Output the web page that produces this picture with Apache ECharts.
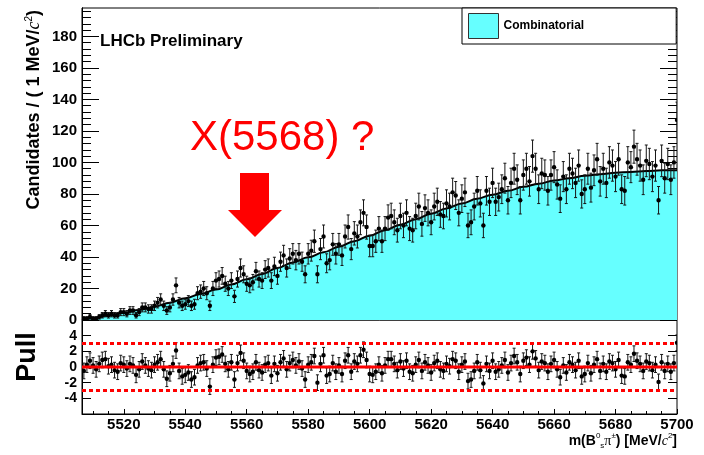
<!DOCTYPE html>
<html>
<head>
<meta charset="utf-8">
<title>Bs pi mass spectrum</title>
<script src="https://cdn.jsdelivr.net/npm/echarts@6/dist/echarts.min.js"></script>
<style>
  html, body { margin: 0; padding: 0; background: #fff; }
  #main { width: 704px; height: 455px; }
</style>
</head>
<body>
<div id="main"></div>
<script>
// 1 MeV bins, first bin centre
var firstBin = 5507;

// candidates per bin
var counts = [
  1, 1, 2, 1, 1, 2, 3, 4, 3, 4,
  3, 3, 5, 5, 4, 6, 6, 3, 5, 8,
  8, 7, 7, 9, 11, 13, 9, 6, 8, 13,
  22, 11, 9, 10, 12, 9, 10, 17, 18, 20,
  17, 9, 20, 25, 26, 28, 23, 20, 25, 15,
  26, 33, 29, 23, 22, 24, 31, 26, 25, 32,
  33, 25, 34, 28, 37, 41, 33, 39, 42, 38,
  42, 37, 29, 42, 44, 50, 29, 45, 53, 36,
  38, 48, 42, 48, 41, 53, 59, 45, 55, 53,
  62, 68, 59, 47, 47, 50, 58, 50, 58, 65,
  66, 62, 57, 66, 60, 68, 58, 57, 66, 72,
  61, 71, 68, 62, 72, 75, 67, 66, 74, 72,
  81, 79, 68, 77, 81, 60, 62, 72, 82, 74,
  60, 82, 75, 87, 75, 78, 83, 90, 76, 87,
  96, 89, 76, 92, 96, 88, 104, 96, 83, 93,
  92, 82, 92, 97, 86, 77, 91, 83, 96, 93,
  87, 98, 80, 83, 96, 84, 95, 102, 88, 96,
  87, 100, 98, 91, 102, 83, 82, 100, 97, 110,
  102, 98, 89, 101, 99, 91, 98, 76, 101, 90,
  99, 89, 100, 127
];

// pulls per bin
var pulls = [
  -0.5, 0.3, 0.8, 0.2, -0.3, 0.4, 0.9, 1.0, 0.1, 0.3,
  -0.4, -0.6, 0.5, 0.3, -0.2, 0.4, 0.2, -1.0, -0.3, 0.7,
  0.2, -0.2, -0.4, 0.3, 0.6, 1.0, -0.3, -1.5, -0.8, 0.4,
  2.1, -0.5, -1.2, -1.0, -0.7, -1.6, -1.3, 0.2, 0.5, 0.6,
  -0.2, -2.5, 0.3, 1.2, 1.3, 1.6, 0.4, -0.3, 0.6, -1.6,
  0.5, 1.8, 0.8, -0.5, -0.9, -0.6, 0.6, -0.4, -0.7, 0.3,
  0.5, -1.1, 0.4, -0.8, 0.6, 1.1, -0.3, 0.5, 0.9, 0.2,
  0.7, -0.2, -1.6, 0.3, 0.6, 1.4, -2.0, 0.4, 1.5, -1.1,
  -0.9, 0.5, -0.6, 0.2, -0.9, 0.8, 1.5, -0.6, 0.7, 0.4,
  1.5, 2.2, 0.9, -0.9, -1.0, -0.6, 0.3, -0.8, 0.2, 1.0,
  1.0, 0.4, -0.4, 0.7, -0.2, 0.8, -0.6, -0.8, 0.3, 0.9,
  -0.5, 0.6, 0.2, -0.7, 0.5, 0.8, -0.3, -0.5, 0.4, 0.1,
  1.0, 0.8, -0.6, 0.3, 0.7, -1.8, -1.6, -0.5, 0.6, -0.4,
  -2.1, 0.4, -0.5, 0.8, -0.6, -0.3, 0.2, 0.9, -0.7, 0.5,
  1.4, 0.6, -0.9, 0.8, 1.2, 0.3, 2.0, 1.1, -0.4, 0.7,
  0.5, -0.6, 0.4, 0.9, -0.3, -1.3, 0.2, -0.7, 0.6, 0.3,
  -0.4, 0.8, -1.2, -0.9, 0.5, -0.8, 0.3, 1.0, -0.5, 0.4,
  -0.6, 0.7, 0.5, -0.3, 0.9, -1.1, -1.2, 0.6, 0.3, 1.7,
  0.8, 0.4, -0.5, 0.7, 0.5, -0.4, 0.3, -1.9, 0.6, -0.5,
  0.4, -0.6, 0.5, 3.1
];

// combinatorial fit curve
var fitMass = [5506.4, 5510, 5515, 5520, 5525, 5530, 5535, 5540, 5545, 5550,
  5555, 5560, 5565, 5570, 5575, 5580, 5585, 5590, 5595, 5600,
  5605, 5610, 5615, 5620, 5625, 5630, 5635, 5640, 5645, 5650,
  5655, 5660, 5665, 5670, 5675, 5680, 5685, 5690, 5695, 5700];
var fitValue = [0, 1.2, 2.7, 4.5, 6.3, 8.5, 11, 13.8, 16.5, 19.3,
  22.5, 25.8, 29.2, 33, 36.5, 39.8, 43, 46.5, 50, 53.5,
  57, 60.5, 64, 67.5, 70.8, 74, 77, 79.5, 82, 84.5,
  86.5, 88.5, 90, 91.5, 92.5, 93.5, 94, 94.5, 95, 95];

var massTicks = [5520, 5540, 5560, 5580, 5600, 5620, 5640, 5660, 5680, 5700];
var countTicks = [0, 20, 40, 60, 80, 100, 120, 140, 160, 180];
var pullTicks = [-4, -2, 0, 2, 4];
var pullLines = [-3, 0, 3];

var massMin = 5506.4, massMax = 5700;
var font = '"Liberation Sans", Arial, Helvetica, sans-serif';

var massMinor = [];
for (var m = 5510; m <= 5700; m += 5) massMinor.push(m);
var countMinor = [];
for (var c = 4; c < 198; c += 4) if (c % 20) countMinor.push(c);

var histData = counts.map(function (n, i) { return [firstBin + i, n, Math.sqrt(n)]; });
var pullData = pulls.map(function (p, i) { return [firstBin + i, p, 1]; });
var fitData = fitMass.map(function (x, i) { return [x, fitValue[i]]; });

function errorBar(params, api) {
  var x = api.value(0), y = api.value(1), e = api.value(2);
  var mid = api.coord([x, y]);
  var top = api.coord([x, y + e]);
  var bot = api.coord([x, y - e]);
  var st = { stroke: '#151515', lineWidth: 1 };
  return {
    type: 'group',
    children: [
      { type: 'line', shape: { x1: mid[0], y1: top[1], x2: mid[0], y2: bot[1] }, style: st },
      { type: 'line', shape: { x1: mid[0] - 1.5, y1: top[1], x2: mid[0] + 1.5, y2: top[1] }, style: st },
      { type: 'line', shape: { x1: mid[0] - 1.5, y1: bot[1], x2: mid[0] + 1.5, y2: bot[1] }, style: st },
      { type: 'circle', shape: { cx: mid[0], cy: mid[1], r: 2.2 }, style: { fill: '#000' } }
    ]
  };
}

function tickAxis(grid, pos, min, max, ticks, len, labels, labelSize, margin) {
  return {
    gridIndex: grid, type: 'value', position: pos, min: min, max: max,
    axisLine: { show: !!labels || pos === 'left', onZero: false, lineStyle: { color: '#000', width: 1 } },
    axisTick: { show: true, inside: true, length: len, customValues: ticks, lineStyle: { color: '#000', width: 1 } },
    axisLabel: labels ? {
      customValues: labels, margin: margin || 5, color: '#000', fontSize: labelSize,
      fontWeight: 'bold', fontFamily: font, hideOverlap: false,
      formatter: function (v) { return String(v); }
    } : { show: false },
    splitLine: { show: false }
  };
}

var chart = echarts.init(document.getElementById('main'));
chart.setOption({
  animation: false,
  grid: [
    { left: 82, right: 27, top: 8, height: 312, show: true, borderColor: '#000', borderWidth: 1, outerBoundsMode: 'none' },
    { left: 82, right: 27, top: 320, height: 94, show: true, borderColor: '#000', borderWidth: 1, outerBoundsMode: 'none' }
  ],
  xAxis: [
    { gridIndex: 0, type: 'value', min: massMin, max: massMax, show: false },
    tickAxis(1, 'bottom', massMin, massMax, massTicks, 5, massTicks, 15, 3),
    tickAxis(1, 'bottom', massMin, massMax, massMinor, 3)
  ],
  yAxis: [
    tickAxis(0, 'left', 0, 198, countTicks, 17, countTicks, 15),
    tickAxis(0, 'left', 0, 198, countMinor, 9),
    tickAxis(0, 'right', 0, 198, countTicks, 17),
    tickAxis(0, 'right', 0, 198, countMinor, 9),
    tickAxis(1, 'left', -6, 6, pullTicks, 9),
    tickAxis(1, 'right', -6, 6, pullTicks, 9)
  ],
  legend: {
    left: 462, top: 8, selectedMode: false,
    data: [{ name: 'Combinatorial', icon: 'rect',
      itemStyle: { color: '#66ffff', borderColor: '#333', borderWidth: 1 } }],
    itemWidth: 30, itemHeight: 25,
    padding: [5, 92, 5, 6],
    borderColor: '#000', borderWidth: 1, backgroundColor: '#fff',
    textStyle: { color: '#000', fontSize: 12, fontWeight: 'bold', fontFamily: font }
  },
  series: [
    {
      name: 'Combinatorial', type: 'line', xAxisIndex: 0, yAxisIndex: 0,
      data: fitData, smooth: 0.4, smoothMonotone: 'x', symbol: 'none',
      lineStyle: { color: '#000', width: 2 },
      itemStyle: { color: '#66ffff' },
      areaStyle: { color: '#66ffff', opacity: 1 }, z: 2
    },
    {
      name: 'Data', type: 'custom', xAxisIndex: 0, yAxisIndex: 0,
      data: histData, renderItem: errorBar, clip: true, z: 3
    },
    {
      name: 'Pull', type: 'custom', xAxisIndex: 1, yAxisIndex: 4,
      data: pullData, renderItem: errorBar, clip: true, z: 3
    }
  ].concat(pullLines.map(function (v) {
    return {
      type: 'line', xAxisIndex: 1, yAxisIndex: 4, symbol: 'none', silent: true, z: 4,
      data: [[massMin, v], [massMax, v]],
      lineStyle: { color: '#ff0000', width: 3, type: v === 0 ? 'solid' : [4, 3] }
    };
  }))
});

// texts and annotation; pull tick labels placed through the pull axis scale
var textEls = [
  { type: 'text', x: 100, y: 41, style: { text: 'LHCb Preliminary', font: 'bold 17px ' + font,
    fill: '#000', align: 'left', verticalAlign: 'middle', textAlign: 'left', textVerticalAlign: 'middle' } },
  { type: 'text', x: 34.5, y: 10, rotation: Math.PI / 2, style: {
    text: '{b|Candidates / ( 1 MeV/}{i|c}{s|2}{b|)}',
    align: 'right', verticalAlign: 'middle', textAlign: 'right', textVerticalAlign: 'middle',
    rich: {
      b: { font: 'bold 18px ' + font, fill: '#000', lineHeight: 20 },
      i: { font: 'italic 18px "Liberation Serif", serif', fill: '#000', lineHeight: 20 },
      s: { font: '10px ' + font, fill: '#000', verticalAlign: 'top', lineHeight: 20 }
    } } },
  { type: 'text', x: 28, y: 357, rotation: Math.PI / 2, style: { text: 'Pull', font: 'bold 27px ' + font,
    fill: '#000', align: 'center', verticalAlign: 'middle', textAlign: 'center', textVerticalAlign: 'middle' } },
  { type: 'text', x: 677, y: 441, style: {
    text: '{n|m(B}{sup|0}{sub|s}{g|π}{sup|±}{n|) [MeV/}{i|c}{sup|2}{n|]}',
    align: 'right', verticalAlign: 'middle', textAlign: 'right', textVerticalAlign: 'middle',
    rich: {
      n: { font: 'bold 14px ' + font, fill: '#000', lineHeight: 18 },
      sup: { font: '8px ' + font, fill: '#000', verticalAlign: 'top', lineHeight: 18 },
      sub: { font: '8px ' + font, fill: '#000', verticalAlign: 'bottom', lineHeight: 18 },
      g: { font: '14px "Liberation Serif", serif', fill: '#000', lineHeight: 18 },
      i: { font: 'italic 14px "Liberation Serif", serif', fill: '#000', lineHeight: 18 }
    } } },
  { type: 'text', x: 190, y: 138, style: { text: 'X(5568) ?', font: '42px ' + font,
    fill: '#ff0000', align: 'left', verticalAlign: 'middle', textAlign: 'left', textVerticalAlign: 'middle' } },
  { type: 'polygon', shape: { points: [[240, 173], [269, 173], [269, 210], [282, 210], [255, 237], [228, 210], [240, 210]] },
    style: { fill: '#ff0000' } }
];
pullTicks.forEach(function (v) {
  var p = chart.convertToPixel({ xAxisIndex: 1, yAxisIndex: 4 }, [massMin, v]);
  textEls.push({
    type: 'text', x: p[0] - 5, y: p[1], z: 100, zlevel: 1,
    style: { text: String(v), font: 'bold 14px ' + font, fill: '#000',
      align: 'right', verticalAlign: 'middle', textAlign: 'right', textVerticalAlign: 'middle' }
  });
});
chart.setOption({ graphic: textEls });
</script>
</body>
</html>
